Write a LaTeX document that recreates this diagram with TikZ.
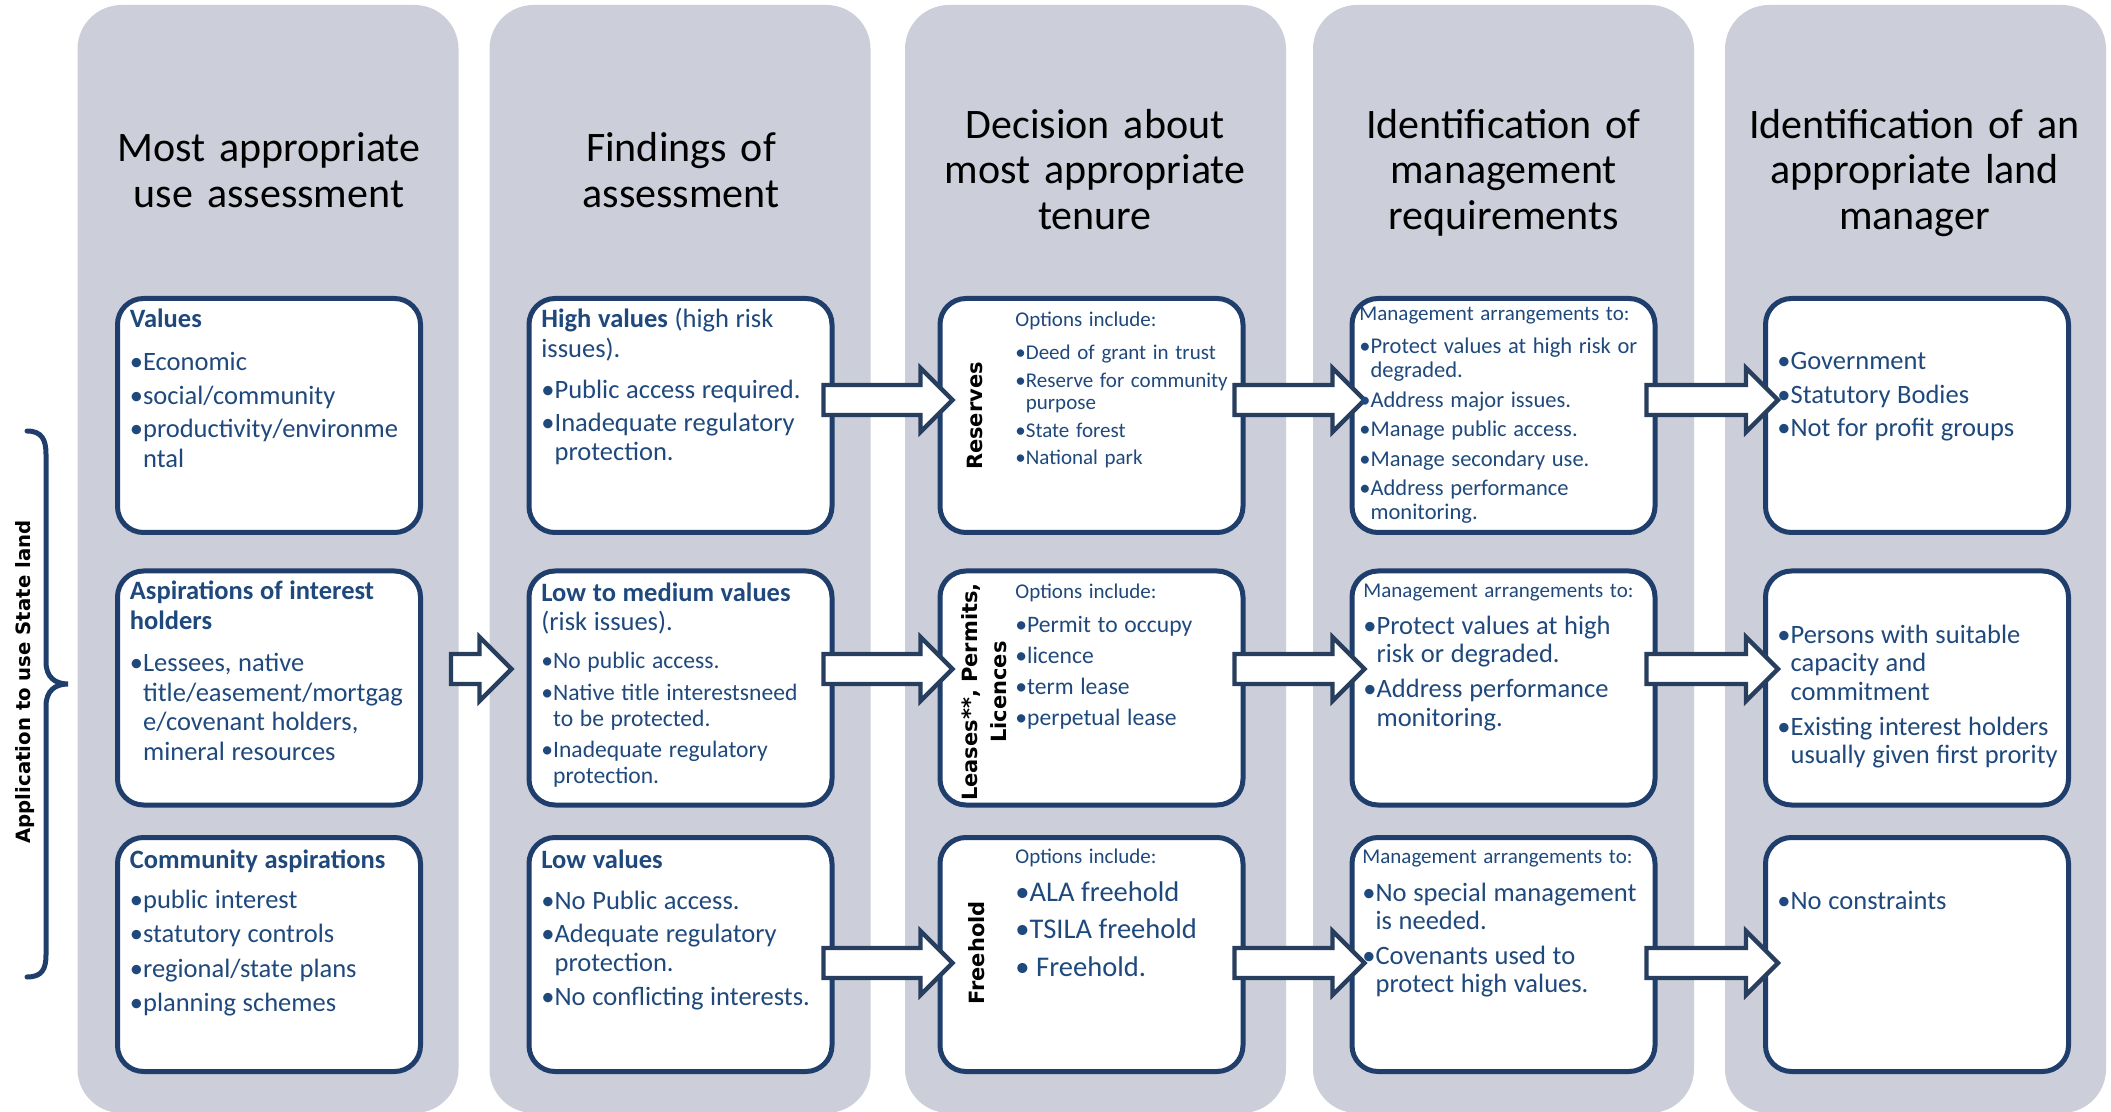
\documentclass[tikz,border=0pt]{standalone}
\usepackage{fontspec}
\setmainfont{Carlito}
\newfontfamily\labelfont{DejaVu Sans}
\usepackage{tikz}
\usetikzlibrary{calc}
\definecolor{panelgray}{RGB}{204,207,217}
\definecolor{boxblue}{RGB}{31,62,108}
\definecolor{arrowblue}{RGB}{40,62,95}
\definecolor{textblue}{RGB}{31,73,125}
\def\blockarrow[#1](#2)(#3)(#4){\draw[#1] let \p1=(#2), \p2=(#3), \p3=(0,#4) in (\x1,\y3+7.5pt) -- (\x2-16pt,\y3+7.5pt) -- (\x2-16pt,\y3+16pt) -- (\x2,\y3) -- (\x2-16pt,\y3-16pt) -- (\x2-16pt,\y3-7.5pt) -- (\x1,\y3-7.5pt) -- cycle}
\def\sz#1#2#3{\fontsize{#1}{#2}\selectfont\parskip=#3pt\relax}
\def\gap#1{\par\vspace{#1pt}}
\def\fitm{\setbox0\hbox{•}\hangindent=\wd0\hangafter=1\box0}
\def\itm{\par\setbox0\hbox{•}\hangindent=\wd0\hangafter=1\noindent\box0}

\begin{document}
\begin{tikzpicture}[x=0.5pt,y=-0.5pt,
	panel/.style={fill=panelgray, rounded corners=22pt},
	box/.style={draw=boxblue, line width=2.5pt, fill=white, rounded corners=13pt, minimum width=151.5pt, minimum height=117pt, inner sep=0pt},
	barrow/.style={draw=arrowblue, fill=white, line width=2.15pt, line join=miter},
	brace/.style={draw=boxblue, line width=2.5pt, line cap=round},
	txt/.style={text=textblue, text width=150pt, align=left, anchor=base west, inner sep=0pt},
	head/.style={text width=180pt, align=center, anchor=base, inner sep=0pt, font=\fontsize{21}{22.75}\selectfont},
	tenure/.style={rotate=90, align=center, inner sep=0pt, font=\labelfont\bfseries\fontsize{10.5}{14.5}\selectfont}]
		%%%%% START %%%%%
		\useasboundingbox (0,0) rectangle (2111,1112);
		
		\foreach \cx in {268,680,1095.5,1503.5,1915.5}
			\fill[panel] (\cx-190.5,5) rectangle (\cx+190.5,1113);
		
		\node[head] (h1) at (269,162) {Most appropriate\\use assessment};
		\node[head] (h2) at (681,162) {Findings of\\assessment};
		\node[head] (h3) at (1095,138.5) {Decision about\\most appropriate\\tenure};
		\node[head] (h4) at (1503.5,138.5) {Identification of\\management\\requirements};
		\node[head] (h5) at (1914.5,138.5) {Identification of an\\appropriate land\\manager};
		
		\node[box] (val) at (269,415.5) {};
		\node[box] (asp) at (269,688) {};
		\node[box] (com) at (269,954.5) {};
		\node[box] (hv) at (680.5,415.5) {};
		\node[box] (lm) at (680.5,688) {};
		\node[box] (lv) at (680.5,954.5) {};
		\node[box] (res) at (1091.5,415.5) {};
		\node[box] (lea) at (1091.5,688) {};
		\node[box] (fh) at (1091.5,954.5) {};
		\node[box] (mgt1) at (1503.5,415.5) {};
		\node[box] (mgt2) at (1503.5,688) {};
		\node[box] (mgt3) at (1503.5,954.5) {};
		\node[box] (gov) at (1917,415.5) {};
		\node[box] (per) at (1917,688) {};
		\node[box] (noc) at (1917,954.5) {};
		
		\blockarrow[barrow]([xshift=14pt]asp.east)([xshift=-7.5pt]lm.west)(669);
		\foreach \src/\dst/\ry in {hv/res/400, res/mgt1/400, mgt1/gov/400, lm/lea/669, lea/mgt2/669, mgt2/per/669, lv/fh/963, fh/mgt3/963, mgt3/noc/963}
			\blockarrow[barrow]([xshift=-5.5pt]\src.east)([xshift=7.5pt]\dst.west)(\ry);
		
		\draw[brace] (27,431) .. controls (42,431) and (46,440) .. (46,454) -- (46,662) .. controls (46,677) and (55,684) .. (68,684) .. controls (55,684) and (46,691) .. (46,706) -- (46,955) .. controls (46,969) and (42,977) .. (27,977);
		\node[tenure, font=\labelfont\bfseries\fontsize{9.85}{12}\selectfont] (app) at (25,682) {Application to use State land};
		
		\node[txt] (val-t) at (129.5,328) {\sz{13.25}{15}{1.75}\textbf{Values}\gap{4.6}\itm Economic\itm social/community\itm productivity/environme\newline ntal\par};
		\node[txt] (asp-t) at (129.5,600) {\sz{13.25}{14.75}{1.75}\textbf{Aspirations of interest\newline holders}\gap{4.6}\itm Lessees, native\newline title/easement/mortgag\newline e/covenant holders,\newline mineral resources\par};
		\node[txt] (com-t) at (129.5,868) {\sz{13.25}{15}{2.25}\textbf{Community aspirations}\gap{2.75}\itm public interest\itm statutory controls\itm regional/state plans\itm planning schemes\par};
		
		\node[txt] (hv-t) at (541,328) {\sz{13.25}{14.75}{1.5}\textbf{High values} (high risk\newline issues).\gap{4.5}\itm Public access required.\itm Inadequate regulatory\newline protection.\par};
		\node[txt] (lm-t) at (541,602) {\sz{13.25}{14.5}{0}\textbf{Low to medium values}\newline (risk issues).\gap{3.25}\sz{11.8}{13}{2.75}\itm No public access.\itm Native title interestsneed\newline to be protected.\itm Inadequate regulatory\newline protection.\par};
		\node[txt] (lv-t) at (541,868) {\sz{13.25}{14.5}{2.25}\textbf{Low values}\gap{3.75}\itm No Public access.\itm Adequate regulatory\newline protection.\itm No conflicting interests.\par};
		
		\node[tenure] (res-l) at (975,416) {Reserves};
		\node[tenure] (lea-l) at (984.5,692) {Leases**, Permits,\\Licences};
		\node[tenure] (fh-l) at (976.5,953) {Freehold};
		\node[txt] (res-t) at (1015,326.5) {\sz{10.5}{11.25}{2.5}Options include:\gap{3}\itm Deed of grant in trust\itm Reserve for community\newline purpose\itm State forest\itm National park\par};
		\node[txt] (lea-t) at (1015,599) {\sz{10.5}{12}{0}Options include:\gap{1.65}\sz{11.8}{14}{1.35}\itm Permit to occupy\itm licence\itm term lease\itm perpetual lease\par};
		\node[txt] (fh-t) at (1015,863) {\sz{10.5}{12}{0}Options include:\gap{0.25}\sz{14.25}{16}{2.75}\itm ALA freehold\itm TSILA freehold\itm\ Freehold.\par};
		
		\node[txt] (mgt1-t) at (1359,320.5) {\sz{10.5}{12}{0}Management arrangements to:\gap{2}\sz{11.25}{12}{2.75}\itm Protect values at high risk or\newline degraded.\itm Address major issues.\itm Manage public access.\itm Manage secondary use.\itm Address performance\newline monitoring.\par};
		\node[txt] (mgt2-t) at (1363,597) {\sz{10.5}{12}{0}Management arrangements to:\gap{0.5}\sz{13.25}{14}{4}\itm Protect values at high\newline risk or degraded.\itm Address performance\newline monitoring.\par};
		\node[txt] (mgt3-t) at (1362,863) {\sz{10.5}{12}{0}Management arrangements to:\gap{1.5}\sz{13.25}{14}{3.5}\itm No special management\newline is needed.\itm Covenants used to\newline protect high values.\par};
		
		\node[txt] (gov-t) at (1777,370) {\sz{13.25}{15}{1.75}\fitm Government\itm Statutory Bodies\itm Not for profit groups\par};
		\node[txt] (per-t) at (1777,643) {\sz{13.25}{14.25}{3.5}\fitm Persons with suitable\newline capacity and\newline commitment\itm Existing interest holders\newline usually given first prority\par};
		\node[txt] (noc-t) at (1777,909) {\sz{13.25}{15}{0}\fitm No constraints\par};
		%%%%% END %%%%%
\end{tikzpicture}
\end{document}
